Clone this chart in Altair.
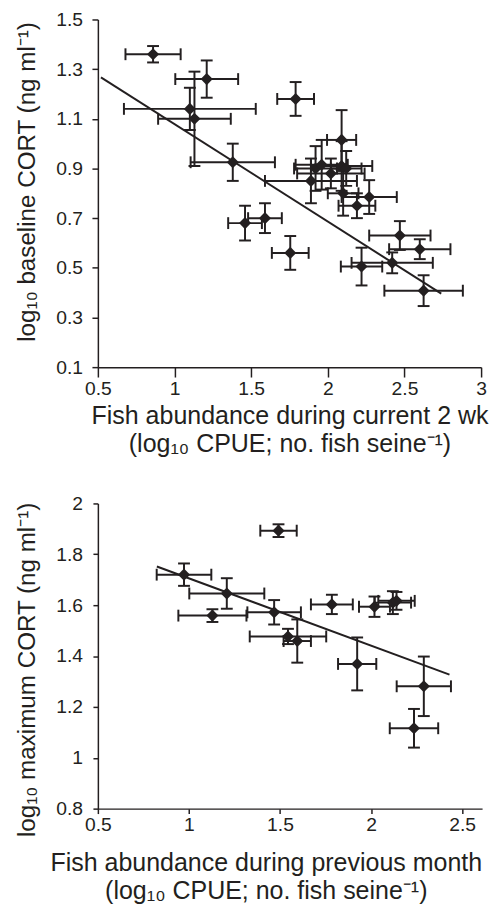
import altair as alt
import pandas as pd

INK = "#231f20"
FONT = "Liberation Sans"

# ---------------- top panel: current 2 wk vs baseline CORT ----------------
top_x = [0.86, 1.21, 1.10, 1.13, 1.38, 1.46, 1.59, 1.755, 1.79, 1.89, 1.92, 1.96,
         2.02, 2.09, 2.12, 2.09, 2.10, 2.19, 2.27, 2.47, 2.60, 2.42, 2.22, 2.625]
top_y = [1.36, 1.26, 1.14, 1.10, 0.925, 0.68, 0.70, 0.56, 1.18, 0.85, 0.90, 0.915,
         0.88, 0.91, 0.90, 1.015, 0.80, 0.75, 0.785, 0.63, 0.575, 0.52, 0.505, 0.408]
top_xerr = [0.18, 0.205, 0.43, 0.237, 0.275, 0.11, 0.11, 0.12, 0.12, 0.30, 0.14, 0.17,
            0.22, 0.20, 0.10, 0.095, 0.10, 0.12, 0.18, 0.20, 0.20, 0.265, 0.135, 0.256]
top_yerr = [0.033, 0.075, 0.085, 0.19, 0.075, 0.07, 0.06, 0.068, 0.068, 0.09, 0.09, 0.10,
            0.06, 0.10, 0.07, 0.12, 0.09, 0.05, 0.068, 0.058, 0.04, 0.042, 0.076, 0.062]
top_fit_x = [0.52, 2.74]
top_fit_y = [1.267, 0.396]

# ---------------- bottom panel: previous month vs maximum CORT ----------------
bot_x = [0.973, 1.208, 1.129, 1.468, 1.492, 1.544, 1.595, 1.785, 2.019, 2.12, 2.14,
         1.924, 2.29, 2.236]
bot_y = [1.72, 1.646, 1.559, 1.572, 1.893, 1.477, 1.459, 1.603, 1.594, 1.61, 1.617,
         1.369, 1.281, 1.116]
bot_xerr = [0.15, 0.206, 0.187, 0.147, 0.10, 0.21, 0.075, 0.115, 0.085, 0.10, 0.10,
            0.105, 0.149, 0.133]
bot_yerr = [0.044, 0.06, 0.025, 0.048, 0.025, 0.03, 0.085, 0.038, 0.04, 0.045, 0.035,
            0.104, 0.117, 0.076]
bot_fit_x = [0.824, 2.431]
bot_fit_y = [1.752, 1.327]

top_xticks = [0.5, 1, 1.5, 2, 2.5, 3]
top_yticks = [0.1, 0.3, 0.5, 0.7, 0.9, 1.1, 1.3, 1.5]
bot_xticks = [0.5, 1, 1.5, 2, 2.5]
bot_yticks = [0.8, 1, 1.2, 1.4, 1.6, 1.8, 2]

NB = "\u00a0"
top_xtitle = ["Fish abundance during current 2 wk", "(log\u2081\u2080 CPUE; no. fish seine\u207b\u00b9)"]
top_ytitle = "log\u2081\u2080 baseline CORT (ng ml\u207b\u00b9)"
bot_xtitle = ["Fish abundance during previous month", NB * 6 + "(log\u2081\u2080 CPUE; no. fish seine\u207b\u00b9)"]
bot_ytitle = "log\u2081\u2080 maximum CORT (ng ml\u207b\u00b9)"


def make_df(x, y, xe, ye):
    return pd.DataFrame({
        "x": x, "y": y,
        "xlo": [a - b for a, b in zip(x, xe)], "xhi": [a + b for a, b in zip(x, xe)],
        "ylo": [a - b for a, b in zip(y, ye)], "yhi": [a + b for a, b in zip(y, ye)],
    })


common_axis = dict(
    grid=False, domainColor=INK, domainWidth=1.5, tickColor=INK, tickWidth=1.5,
    labelFont=FONT, labelFontSize=19.5, labelColor=INK, labelFlush=False, labelOverlap=False,
    titleFont=FONT, titleFontWeight="normal", titleColor=INK,
)


def panel(df, fx, fy, xdom, ydom, w, h, xticks, yticks, xfmt, yfmt,
          xtitle, ytitle, xkw, ykw):
    xs = alt.Scale(domain=xdom, nice=False, zero=False)
    ys = alt.Scale(domain=ydom, nice=False, zero=False)
    xax = alt.Axis(values=xticks, format=xfmt, **common_axis, **xkw)
    yax = alt.Axis(values=yticks, format=yfmt, **common_axis, **ykw)

    def X(f):
        return alt.X(f"{f}:Q", scale=xs, axis=xax, title=xtitle)

    def Y(f):
        return alt.Y(f"{f}:Q", scale=ys, axis=yax, title=ytitle)

    base = alt.Chart(df)
    hbar = base.mark_rule(color=INK, strokeWidth=2).encode(x=X("xlo"), x2=alt.X2("xhi"), y=Y("y"))
    vbar = base.mark_rule(color=INK, strokeWidth=2).encode(x=X("x"), y=Y("ylo"), y2=alt.Y2("yhi"))
    cap_kw = dict(color=INK, size=12, thickness=2, opacity=1)
    cxl = base.mark_tick(orient="vertical", **cap_kw).encode(x=X("xlo"), y=Y("y"))
    cxh = base.mark_tick(orient="vertical", **cap_kw).encode(x=X("xhi"), y=Y("y"))
    cyl = base.mark_tick(orient="horizontal", **cap_kw).encode(x=X("x"), y=Y("ylo"))
    cyh = base.mark_tick(orient="horizontal", **cap_kw).encode(x=X("x"), y=Y("yhi"))
    ldf = pd.DataFrame({"lx": fx, "ly": fy})
    fit = alt.Chart(ldf).mark_line(color=INK, strokeWidth=2).encode(x=X("lx"), y=Y("ly"))
    pts = base.mark_point(shape="diamond", filled=True, size=150, color=INK, opacity=1).encode(
        x=X("x"), y=Y("y"))
    return alt.layer(hbar, vbar, cxl, cxh, cyl, cyh, fit, pts).properties(width=w, height=h)


top = panel(make_df(top_x, top_y, top_xerr, top_yerr), top_fit_x, top_fit_y,
            [0.5, 3], [0.1, 1.5], 388, 352, top_xticks, top_yticks, ".1~f", ".1f",
            top_xtitle, top_ytitle,
            dict(tickSize=10, labelPadding=3, titleY=57.5, titleBaseline="alphabetic",
                 titleLineHeight=27.5, titleFontSize=25.3),
            dict(tickSize=6, labelPadding=9.5, titlePadding=17, titleY=164,
                 titleAngle=270, titleAlign="center", titleFontSize=24.5))

bottom = panel(make_df(bot_x, bot_y, bot_xerr, bot_yerr), bot_fit_x, bot_fit_y,
               [0.5, 2.61], [0.8, 2.0], 389, 309, bot_xticks, bot_yticks, ".1~f", ".1~f",
               bot_xtitle, bot_ytitle,
               dict(tickSize=5, labelPadding=2, titleY=63, titleX=170, titleAlign="center",
                    titleBaseline="alphabetic", titleLineHeight=28, titleFontSize=25.3),
               dict(tickSize=5, labelPadding=10.5, titlePadding=17, titleY=168,
                    titleAngle=270, titleAlign="center", titleFontSize=24.5))

chart = alt.vconcat(top, bottom, spacing=37).properties(
    padding={"left": 6, "top": -4, "right": 0, "bottom": 0}
).configure_view(stroke=None)

chart.save("out.html", embed_options={"renderer": "svg", "actions": False})
